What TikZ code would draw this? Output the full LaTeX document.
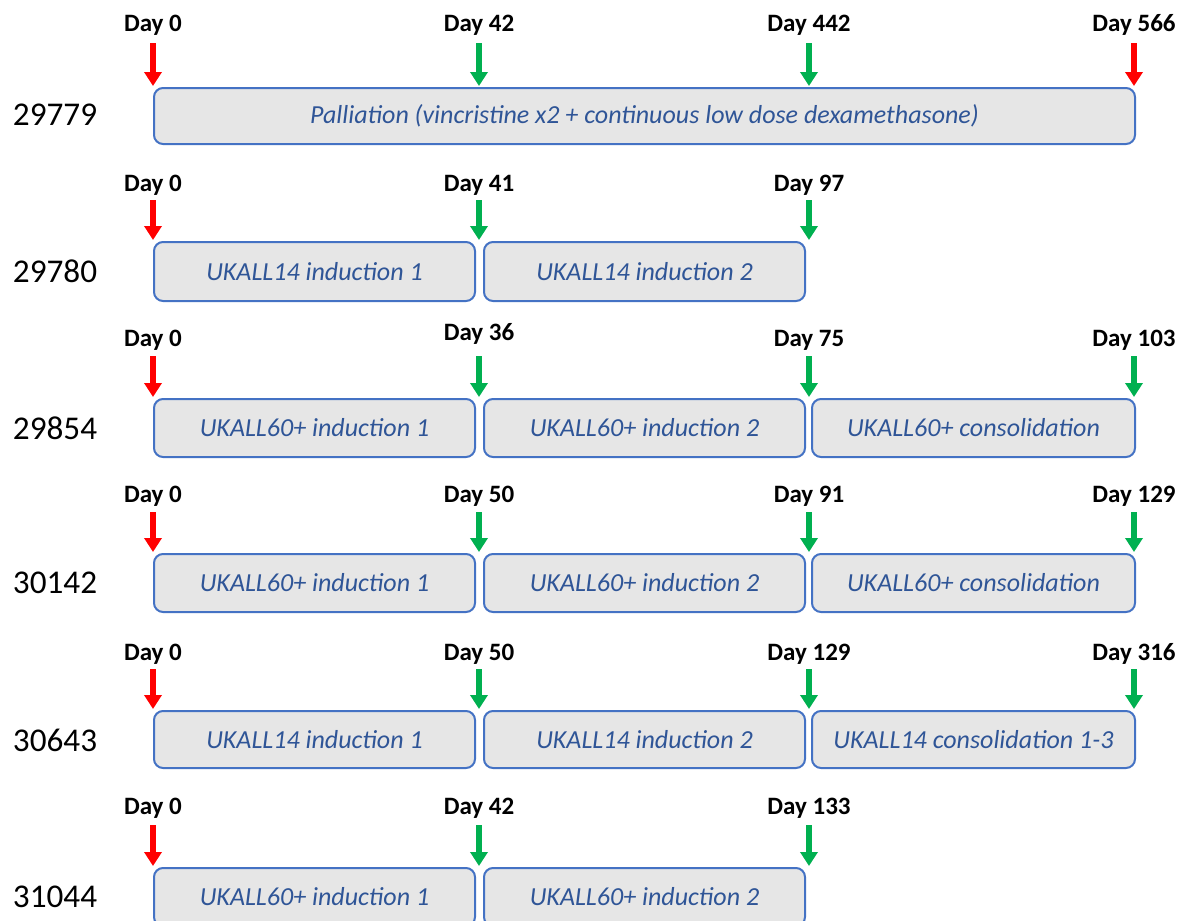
\documentclass[tikz,border=0pt]{standalone}
\usepackage{fontspec}
\setmainfont{Carlito}
\usetikzlibrary{arrows.meta}
\definecolor{boxfill}{HTML}{E6E6E6}
\definecolor{boxline}{HTML}{4472C4}
\definecolor{boxtext}{HTML}{2F5597}
\definecolor{startred}{HTML}{FF0000}
\definecolor{stepgreen}{HTML}{00B050}
\tikzset{
  phase/.style={draw=boxline, line width=1pt, fill=boxfill, rounded corners=4.5pt,
    anchor=north west, inner sep=0pt, text=boxtext,
    font=\fontsize{13}{15}\selectfont\itshape},
  daylabel/.style={font=\fontsize{12.5}{14}\selectfont\bfseries, inner sep=0pt},
  caseid/.style={font=\fontsize{16.6}{20}\selectfont, inner sep=0pt},
  marker/.style={line width=2.6pt, -{Triangle[width=8.5pt,length=7pt]}},
}
% #1 name, #2 x, #3 label y, #4 arrow top, #5 arrow tip, #6 colour, #7 label
\newcommand{\daymark}[7]{%
  \node[daylabel] (#1) at (#2,#3) {#7};
  \coordinate (#1s) at (#2,#4);
  \coordinate (#1t) at (#2,#5);
  \draw[marker, draw=#6] (#1s) -- (#1t);
}
% #1 name, #2 left x, #3 top y, #4 width, #5 height, #6 text
\newcommand{\phasebox}[6]{%
  \node[phase, minimum width=#4*0.5pt, minimum height=#5*0.5pt] (#1) at (#2,#3) {#6};
}
\begin{document}
\begin{tikzpicture}[x=0.5pt,y=-0.5pt]
  \useasboundingbox (0,0) rectangle (1180,921);
  \fill[white] (0,0) rectangle (1180,921);
  \clip (0,0) rectangle (1180,921);

  % Patient 29779
  \node[caseid] (p1) at (55,115) {29779};
  \phasebox{b11}{153}{87}{981}{56}{Palliation (vincristine x2 + continuous low dose dexamethasone)}
  \daymark{d10}{153}{25}{43}{86}{startred}{Day 0}
  \daymark{d11}{479}{25}{43}{86}{stepgreen}{Day 42}
  \daymark{d12}{809}{25}{43}{86}{stepgreen}{Day 442}
  \daymark{d13}{1134}{25}{43}{86}{startred}{Day 566}

  % Patient 29780
  \node[caseid] (p2) at (55,271) {29780};
  \phasebox{b21}{153}{241}{321}{59}{UKALL14 induction 1}
  \phasebox{b22}{483}{241}{321}{59}{UKALL14 induction 2}
  \daymark{d20}{153}{185}{200}{240}{startred}{Day 0}
  \daymark{d21}{479}{185}{200}{240}{stepgreen}{Day 41}
  \daymark{d22}{809}{185}{200}{240}{stepgreen}{Day 97}

  % Patient 29854
  \node[caseid] (p3) at (55,428) {29854};
  \phasebox{b31}{153}{398}{321}{58}{UKALL60+ induction 1}
  \phasebox{b32}{483}{398}{321}{58}{UKALL60+ induction 2}
  \phasebox{b33}{811}{398}{323}{58}{UKALL60+ consolidation}
  \daymark{d30}{153}{340}{356}{397}{startred}{Day 0}
  \daymark{d31}{479}{334}{356}{397}{stepgreen}{Day 36}
  \daymark{d32}{809}{340}{356}{397}{stepgreen}{Day 75}
  \daymark{d33}{1134}{340}{356}{397}{stepgreen}{Day 103}

  % Patient 30142
  \node[caseid] (p4) at (55,583) {30142};
  \phasebox{b41}{153}{553}{321}{58}{UKALL60+ induction 1}
  \phasebox{b42}{483}{553}{321}{58}{UKALL60+ induction 2}
  \phasebox{b43}{811}{553}{323}{58}{UKALL60+ consolidation}
  \daymark{d40}{153}{496}{512}{552}{startred}{Day 0}
  \daymark{d41}{479}{496}{512}{552}{stepgreen}{Day 50}
  \daymark{d42}{809}{496}{512}{552}{stepgreen}{Day 91}
  \daymark{d43}{1134}{496}{512}{552}{stepgreen}{Day 129}

  % Patient 30643
  \node[caseid] (p5) at (55,740) {30643};
  \phasebox{b51}{153}{710}{321}{57}{UKALL14 induction 1}
  \phasebox{b52}{483}{710}{321}{57}{UKALL14 induction 2}
  \phasebox{b53}{811}{710}{323}{57}{UKALL14 consolidation 1-3}
  \daymark{d50}{153}{654}{669}{709}{startred}{Day 0}
  \daymark{d51}{479}{654}{669}{709}{stepgreen}{Day 50}
  \daymark{d52}{809}{654}{669}{709}{stepgreen}{Day 129}
  \daymark{d53}{1134}{654}{669}{709}{stepgreen}{Day 316}

  % Patient 31044
  \node[caseid] (p6) at (55,897) {31044};
  \phasebox{b61}{153}{867}{321}{58}{UKALL60+ induction 1}
  \phasebox{b62}{483}{867}{321}{58}{UKALL60+ induction 2}
  \daymark{d60}{153}{808}{825}{866}{startred}{Day 0}
  \daymark{d61}{479}{808}{825}{866}{stepgreen}{Day 42}
  \daymark{d62}{809}{808}{825}{866}{stepgreen}{Day 133}
\end{tikzpicture}
\end{document}
